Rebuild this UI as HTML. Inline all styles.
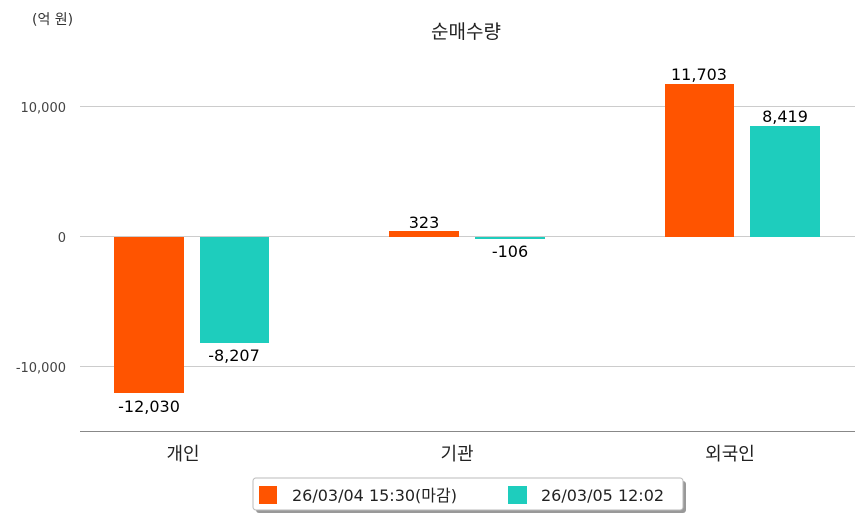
<!DOCTYPE html>
<html><head><meta charset="utf-8"><style>
body{margin:0;background:#fff;}
svg text{font-family:"DejaVu Sans","Noto Sans CJK KR",sans-serif;}
</style></head><body>
<svg width="863" height="520" xmlns="http://www.w3.org/2000/svg">
<text x="32" y="24" font-size="14" fill="#333" font-family="Noto Sans CJK KR, sans-serif">(억 원)</text>
<text x="466" y="38" font-size="19" text-anchor="middle" fill="#222" font-family="Noto Sans CJK KR, sans-serif">순매수량</text>
<g stroke="#ccc" stroke-width="1">
<line x1="80" y1="106.5" x2="855" y2="106.5"/>
<line x1="80" y1="236.5" x2="855" y2="236.5"/>
<line x1="80" y1="366.5" x2="855" y2="366.5"/>
</g>
<line x1="80" y1="431.5" x2="855" y2="431.5" stroke="#888"/>
<g font-size="13" fill="#444" text-anchor="end" font-family="Noto Sans CJK KR, sans-serif">
<text x="66" y="112">10,000</text>
<text x="66" y="242">0</text>
<text x="66" y="372">-10,000</text>
</g>
<g>
<rect x="114" y="237" width="70" height="156" fill="#ff5400"/>
<rect x="200" y="237" width="69" height="106" fill="#1ecdbd"/>
<rect x="389" y="231" width="70" height="6" fill="#ff5400"/>
<rect x="475" y="237" width="70" height="2" fill="#1ecdbd"/>
<rect x="665" y="84" width="69" height="153" fill="#ff5400"/>
<rect x="750" y="126" width="70" height="111" fill="#1ecdbd"/>
</g>
<g font-size="16" fill="#000" text-anchor="middle" font-family="Noto Sans CJK KR, sans-serif">
<text x="149" y="412">-12,030</text>
<text x="234" y="361">-8,207</text>
<text x="424" y="228">323</text>
<text x="510" y="257">-106</text>
<text x="699" y="80">11,703</text>
<text x="785" y="122">8,419</text>
</g>
<g font-size="18" fill="#222" text-anchor="middle" font-family="Noto Sans CJK KR, sans-serif">
<text x="183" y="460">개인</text>
<text x="457" y="460">기관</text>
<text x="730" y="460">외국인</text>
</g>
<rect x="256" y="481" width="430" height="32" rx="3" fill="#999"/>
<rect x="253" y="478" width="430" height="32" rx="3" fill="#fff" stroke="#bbb"/>
<rect x="259" y="486" width="18" height="18" fill="#ff5400"/>
<text x="292" y="501" font-size="16" fill="#222" font-family="Noto Sans CJK KR, sans-serif">26/03/04 15:30(마감)</text>
<rect x="508" y="486" width="19" height="18" fill="#1ecdbd"/>
<text x="541" y="501" font-size="16" fill="#222" font-family="Noto Sans CJK KR, sans-serif">26/03/05 12:02</text>
</svg>
</body></html>
